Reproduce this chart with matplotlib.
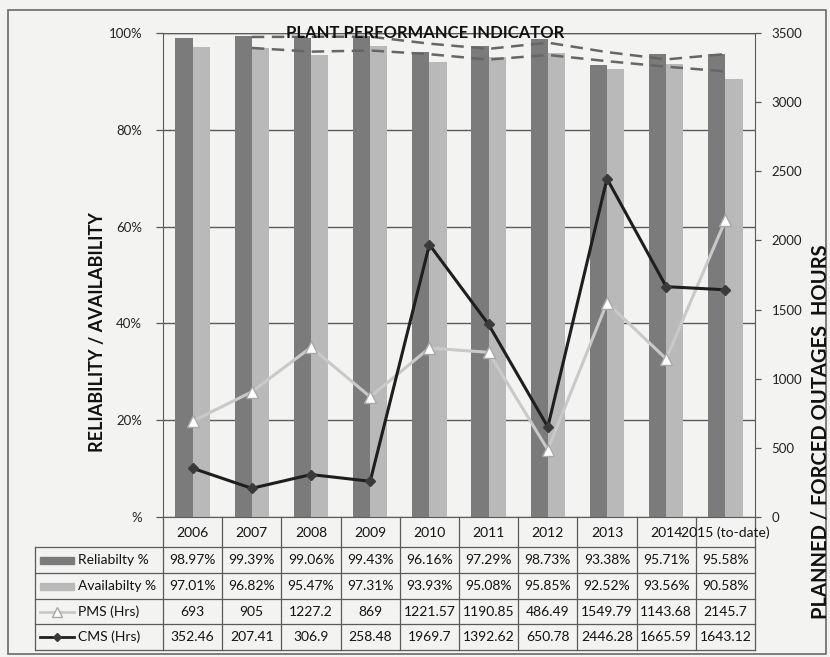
import matplotlib
matplotlib.use("Agg")
import matplotlib.pyplot as plt
import numpy as np
import pandas as pd
from matplotlib.lines import Line2D
from matplotlib.patches import Rectangle

plt.rcParams["font.family"] = ["Lato", "DejaVu Sans"]

YEARS = ["2006", "2007", "2008", "2009", "2010", "2011", "2012", "2013", "2014", "2015 (to-date)"]
RELIABILITY = [98.97, 99.39, 99.06, 99.43, 96.16, 97.29, 98.73, 93.38, 95.71, 95.58]
AVAILABILITY = [97.01, 96.82, 95.47, 97.31, 93.93, 95.08, 95.85, 92.52, 93.56, 90.58]
PMS_HRS = [693, 905, 1227.2, 869, 1221.57, 1190.85, 486.49, 1549.79, 1143.68, 2145.7]
CMS_HRS = [352.46, 207.41, 306.9, 258.48, 1969.7, 1392.62, 650.78, 2446.28, 1665.59, 1643.12]

ROW_LABELS = ["Reliabilty %", "Availabilty %", "PMS (Hrs)", "CMS (Hrs)"]

BG = "#f3f3f1"
C_REL = "#7b7b7b"
C_AVA = "#b9b9b9"
C_PMS = "#c9c9c9"
C_CMS = "#1e1e1e"
C_GRID = "#5a5a5a"

W, H = 830, 657
fig = plt.figure(figsize=(W / 100, H / 100), dpi=100)
fig.patch.set_facecolor(BG)


def fx(px):
    return px / W


def fy(py):
    return 1 - py / H


x0, x1, y_top, y_bot, t_bot = 163, 755, 33, 517, 650
ax = fig.add_axes([fx(x0), fy(y_bot), fx(x1 - x0), fy(y_top) - fy(y_bot)])
ax.set_facecolor(BG)
x = np.arange(len(YEARS))
bw = 0.29

ax.bar(x - bw / 2, RELIABILITY, width=bw, color=C_REL, zorder=2)
ax.bar(x + bw / 2, AVAILABILITY, width=bw, color=C_AVA, zorder=2)

# 2-period moving average trendlines
rel_ma = pd.Series(RELIABILITY).rolling(2).mean()
ava_ma = pd.Series(AVAILABILITY).rolling(2).mean()
ax.plot(x, rel_ma, color="#666666", lw=1.8, ls=(0, (5, 3)), zorder=3, clip_on=False)
ax.plot(x, ava_ma, color="#666666", lw=1.8, ls=(0, (5, 3)), zorder=3, clip_on=False)

ax.set_xlim(-0.5, len(YEARS) - 0.5)
ax.set_ylim(0, 100)
ax.set_yticks([0, 20, 40, 60, 80, 100])
ax.set_yticklabels(["%", "20%", "40%", "60%", "80%", "100%"], fontsize=9.5, color="#222222")
ax.yaxis.grid(True, color=C_GRID, lw=1.0, zorder=0)
ax.set_axisbelow(True)
ax.set_xticks([])
ax.tick_params(axis="y", length=5, width=0.9, color=C_GRID, pad=10)
for side in ["top", "right"]:
    ax.spines[side].set_visible(False)
ax.spines["left"].set_color(C_GRID)
ax.spines["bottom"].set_color(C_GRID)

ax2 = ax.twinx()
ax2.set_zorder(ax.get_zorder() + 1)
ax2.patch.set_visible(False)
ax2.plot(x, PMS_HRS, color=C_PMS, lw=2.2, marker="^", ms=8, mfc="white", mec="#a8a8a8", mew=1.0, zorder=4)
ax2.plot(x, CMS_HRS, color=C_CMS, lw=2.2, marker="D", ms=5.5, mfc="#3a3a3a", mec="#3a3a3a", zorder=5)
ax2.set_ylim(0, 3500)
ax2.set_yticks(np.arange(0, 3501, 500))
ax2.tick_params(axis="y", labelsize=9.5, length=4, width=0.9, color=C_GRID, labelcolor="#222222", pad=8)
for side in ["top", "left", "bottom"]:
    ax2.spines[side].set_visible(False)
ax2.spines["right"].set_color(C_GRID)
ax2.axhline(3500, color=C_GRID, lw=1.0)

fig.text(fx(425), fy(33), "PLANT PERFORMANCE INDICATOR", ha="center", va="center",
         fontsize=12, fontweight="bold", color="#111111", zorder=10)
fig.text(fx(97), fy(332), "RELIABILITY / AVAILABILITY", rotation=90, ha="center", va="center",
         fontsize=13, fontweight="bold", color="#111111")
fig.text(fx(820), fy(432), "PLANNED / FORCED OUTAGES  HOURS", rotation=90, ha="center", va="center",
         fontsize=14.5, fontweight="bold", color="#111111")

# data table below the plot
tab = fig.add_axes([fx(x0), fy(t_bot), fx(x1 - x0), fy(y_bot) - fy(t_bot)])
tab.set_xlim(-0.5, len(YEARS) - 0.5)
tab.set_ylim(t_bot - y_bot, 0)
tab.axis("off")
row_edges = [0, 30, 56, 82, 107, 133]
lx = (35 - x0) / ((x1 - x0) / len(YEARS)) - 0.5  # left edge of label column in data units
lc = dict(color=C_GRID, lw=0.9, clip_on=False)

for k in range(len(YEARS) + 1):
    tab.plot([k - 0.5, k - 0.5], [0, row_edges[-1]], **lc)
for r in row_edges[1:]:
    tab.plot([lx, len(YEARS) - 0.5], [r, r], **lc)
tab.plot([lx, lx], [row_edges[1], row_edges[-1]], **lc)

for i, yr in enumerate(YEARS):
    tab.text(i, 16, yr, ha="center", va="center", fontsize=10, color="#111111", clip_on=False)

rows = [
    [f"{v:.2f}%" for v in RELIABILITY],
    [f"{v:.2f}%" for v in AVAILABILITY],
    [f"{v:g}" for v in PMS_HRS],
    [f"{v:g}" for v in CMS_HRS],
]
for r, vals in enumerate(rows):
    yc = (row_edges[r + 1] + row_edges[r + 2]) / 2
    for i, s in enumerate(vals):
        tab.text(i, yc, s, ha="center", va="center", fontsize=10, color="#111111", clip_on=False)
    tab.text(lx + 0.72, yc, ROW_LABELS[r], ha="left", va="center", fontsize=10, color="#111111", clip_on=False)

# legend keys in the label column
kx0, kx1 = lx + 0.08, lx + 0.66
yc = [(row_edges[r + 1] + row_edges[r + 2]) / 2 for r in range(4)]
tab.add_patch(Rectangle((kx0, yc[0] - 3.5), kx1 - kx0, 7, color=C_REL, clip_on=False))
tab.add_patch(Rectangle((kx0, yc[1] - 3.5), kx1 - kx0, 7, color=C_AVA, clip_on=False))
tab.add_line(Line2D([kx0, kx1], [yc[2], yc[2]], color=C_PMS, lw=2, clip_on=False))
tab.plot([(kx0 + kx1) / 2], [yc[2]], marker="^", ms=7, mfc="white", mec="#a8a8a8", clip_on=False)
tab.add_line(Line2D([kx0, kx1], [yc[3], yc[3]], color=C_CMS, lw=2, clip_on=False))
tab.plot([(kx0 + kx1) / 2], [yc[3]], marker="D", ms=4.5, color="#3a3a3a", clip_on=False)

# outer chart border
fig.add_artist(Rectangle((fx(8), fy(654)), fx(818), fy(10) - fy(654), transform=fig.transFigure,
                         fill=False, ec="#6a6a6a", lw=1.2))

fig.savefig("out.png", dpi=100, facecolor=BG)
